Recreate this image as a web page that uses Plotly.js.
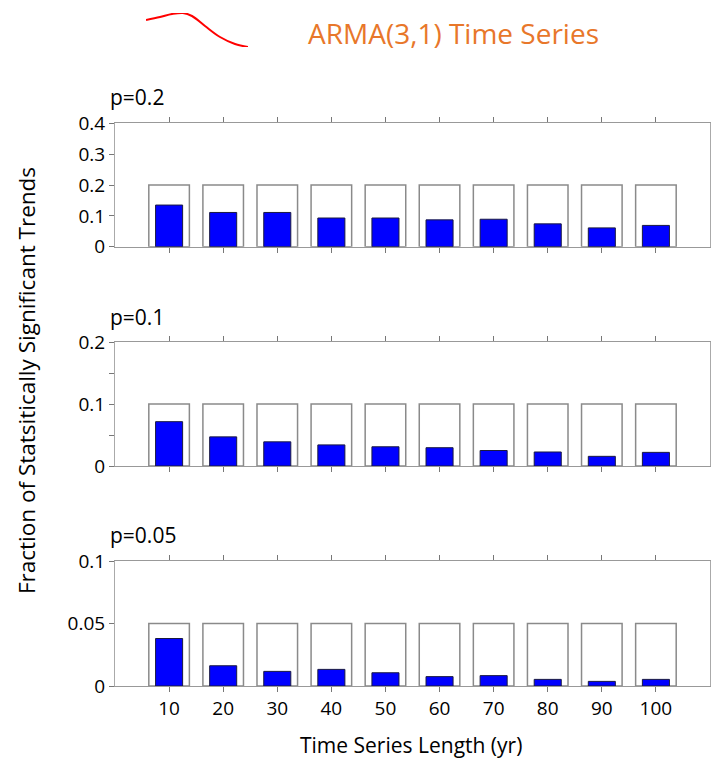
<!DOCTYPE html>
<html>
<head>
<meta charset="utf-8">
<script src="https://cdn.plot.ly/plotly-3.0.1.min.js"></script>
<style>html,body{margin:0;padding:0;background:#fff;}#chart{width:711px;height:760px;}</style>
</head>
<body>
<div id="chart"></div>
<script>
// ---- data ----
const lengths = [10, 20, 30, 40, 50, 60, 70, 80, 90, 100];
const pLevels = [0.2, 0.1, 0.05];
const panelTitles = ["p=0.2", "p=0.1", "p=0.05"];
const frac_p020 = [0.135, 0.111, 0.111, 0.093, 0.093, 0.087, 0.089, 0.074, 0.061, 0.069];
const frac_p010 = [0.0715, 0.047, 0.039, 0.034, 0.031, 0.0295, 0.025, 0.0226, 0.0156, 0.022];
const frac_p005 = [0.038, 0.0162, 0.0117, 0.0133, 0.0106, 0.0075, 0.0083, 0.0053, 0.0037, 0.0053];
const yTickVals = [[0, 0.1, 0.2, 0.3, 0.4], [0, 0.05, 0.1, 0.15, 0.2], [0, 0.05, 0.1]];
const yTickText = [["0", "0.1", "0.2", "0.3", "0.4"], ["0", "", "0.1", "", "0.2"], ["0", "0.05", "0.1"]];
const xTickText = ["10", "20", "30", "40", "50", "60", "70", "80", "90", "100"];
// decorative time-series sketch beside the title
const iconX = [0, 14, 26, 37, 46, 59, 74, 89, 102];
const iconY = [27, 30, 33, 34, 31, 21, 10, 3, 0];

const W = 711, H = 760;
const FONT = "Open Sans, sans-serif";
const fracs = [frac_p020, frac_p010, frac_p005];
const domainsPx = [[123.3, 246.7], [342, 466], [561, 686]];
const titleYpx = [97, 317, 535];
const xDom = [115 / W, 710 / W];

const traces = [];
const layout = {
  width: W, height: H,
  margin: {l: 0, r: 0, t: 0, b: 0},
  paper_bgcolor: "#fff", plot_bgcolor: "#fff",
  showlegend: false,
  barmode: "overlay",
  font: {family: FONT, color: "#000", size: 18},
  annotations: []
};

for (let i = 0; i < 3; i++) {
  const n = i === 0 ? "" : String(i + 1);
  const xa = "x" + n, ya = "y" + n;
  traces.push({
    type: "bar", x: lengths, y: lengths.map(() => pLevels[i]),
    xaxis: xa, yaxis: ya, width: 7.5,
    marker: {color: "#ffffff", line: {color: "#8a8a8a", width: 1.5}},
    hoverinfo: "skip"
  });
  traces.push({
    type: "bar", x: lengths, y: fracs[i],
    xaxis: xa, yaxis: ya, width: 5,
    marker: {color: "#0000ff", line: {color: "#1a1a40", width: 1}}
  });
  const d = domainsPx[i];
  layout["xaxis" + n] = {
    domain: xDom, range: [0, 110], anchor: ya,
    tickmode: "array", tickvals: lengths, ticktext: xTickText,
    showticklabels: i === 2,
    ticks: "outside", ticklen: 5, tickcolor: "#777", tickwidth: 1,
    showline: true, linecolor: "#999", linewidth: 1, mirror: "ticks",
    showgrid: false, zeroline: false,
    tickfont: {family: FONT, size: 19, color: "#000"}
  };
  layout["yaxis" + n] = {
    domain: [1 - d[1] / H, 1 - d[0] / H], range: [0, pLevels[i] * 2], anchor: xa,
    tickmode: "array", tickvals: yTickVals[i], ticktext: yTickText[i],
    ticks: "outside", ticklen: 5, tickcolor: "#777", tickwidth: 1,
    showline: true, linecolor: "#aaa", linewidth: 1, mirror: "ticks",
    showgrid: false, zeroline: false,
    tickfont: {family: FONT, size: 19, color: "#000"}
  };
  layout.annotations.push({
    text: panelTitles[i], xref: "paper", yref: "paper",
    x: 108 / W, y: 1 - titleYpx[i] / H, xanchor: "left", yanchor: "middle",
    showarrow: false, font: {family: FONT, size: 21, color: "#000"}
  });
}

// icon trace
traces.push({
  type: "scatter", mode: "lines", x: iconX, y: iconY,
  xaxis: "x4", yaxis: "y4", line: {color: "#ff0000", width: 2, shape: "spline"},
  hoverinfo: "skip"
});
layout.xaxis4 = {domain: [146 / W, 248 / W], range: [0, 102], visible: false, anchor: "y4"};
layout.yaxis4 = {domain: [1 - 47 / H, 1 - 13 / H], range: [0, 34], visible: false, anchor: "x4"};

layout.annotations.push({
  text: "ARMA(3,1) Time Series", xref: "paper", yref: "paper",
  x: 453 / W, y: 1 - 33 / H, xanchor: "center", yanchor: "middle",
  showarrow: false, font: {family: FONT, size: 28, color: "#e8772a"}
});
layout.annotations.push({
  text: "Fraction of Statsitically Significant Trends", xref: "paper", yref: "paper",
  x: 27 / W, y: 1 - 381 / H, xanchor: "center", yanchor: "middle", textangle: -90,
  showarrow: false, font: {family: FONT, size: 22.5, color: "#000"}
});
layout.annotations.push({
  text: "Time Series Length (yr)", xref: "paper", yref: "paper",
  x: 411 / W, y: 1 - 745 / H, xanchor: "center", yanchor: "middle",
  showarrow: false, font: {family: FONT, size: 21, color: "#000"}
});

Plotly.newPlot("chart", traces, layout, {displayModeBar: false, staticPlot: true});
</script>
</body>
</html>
